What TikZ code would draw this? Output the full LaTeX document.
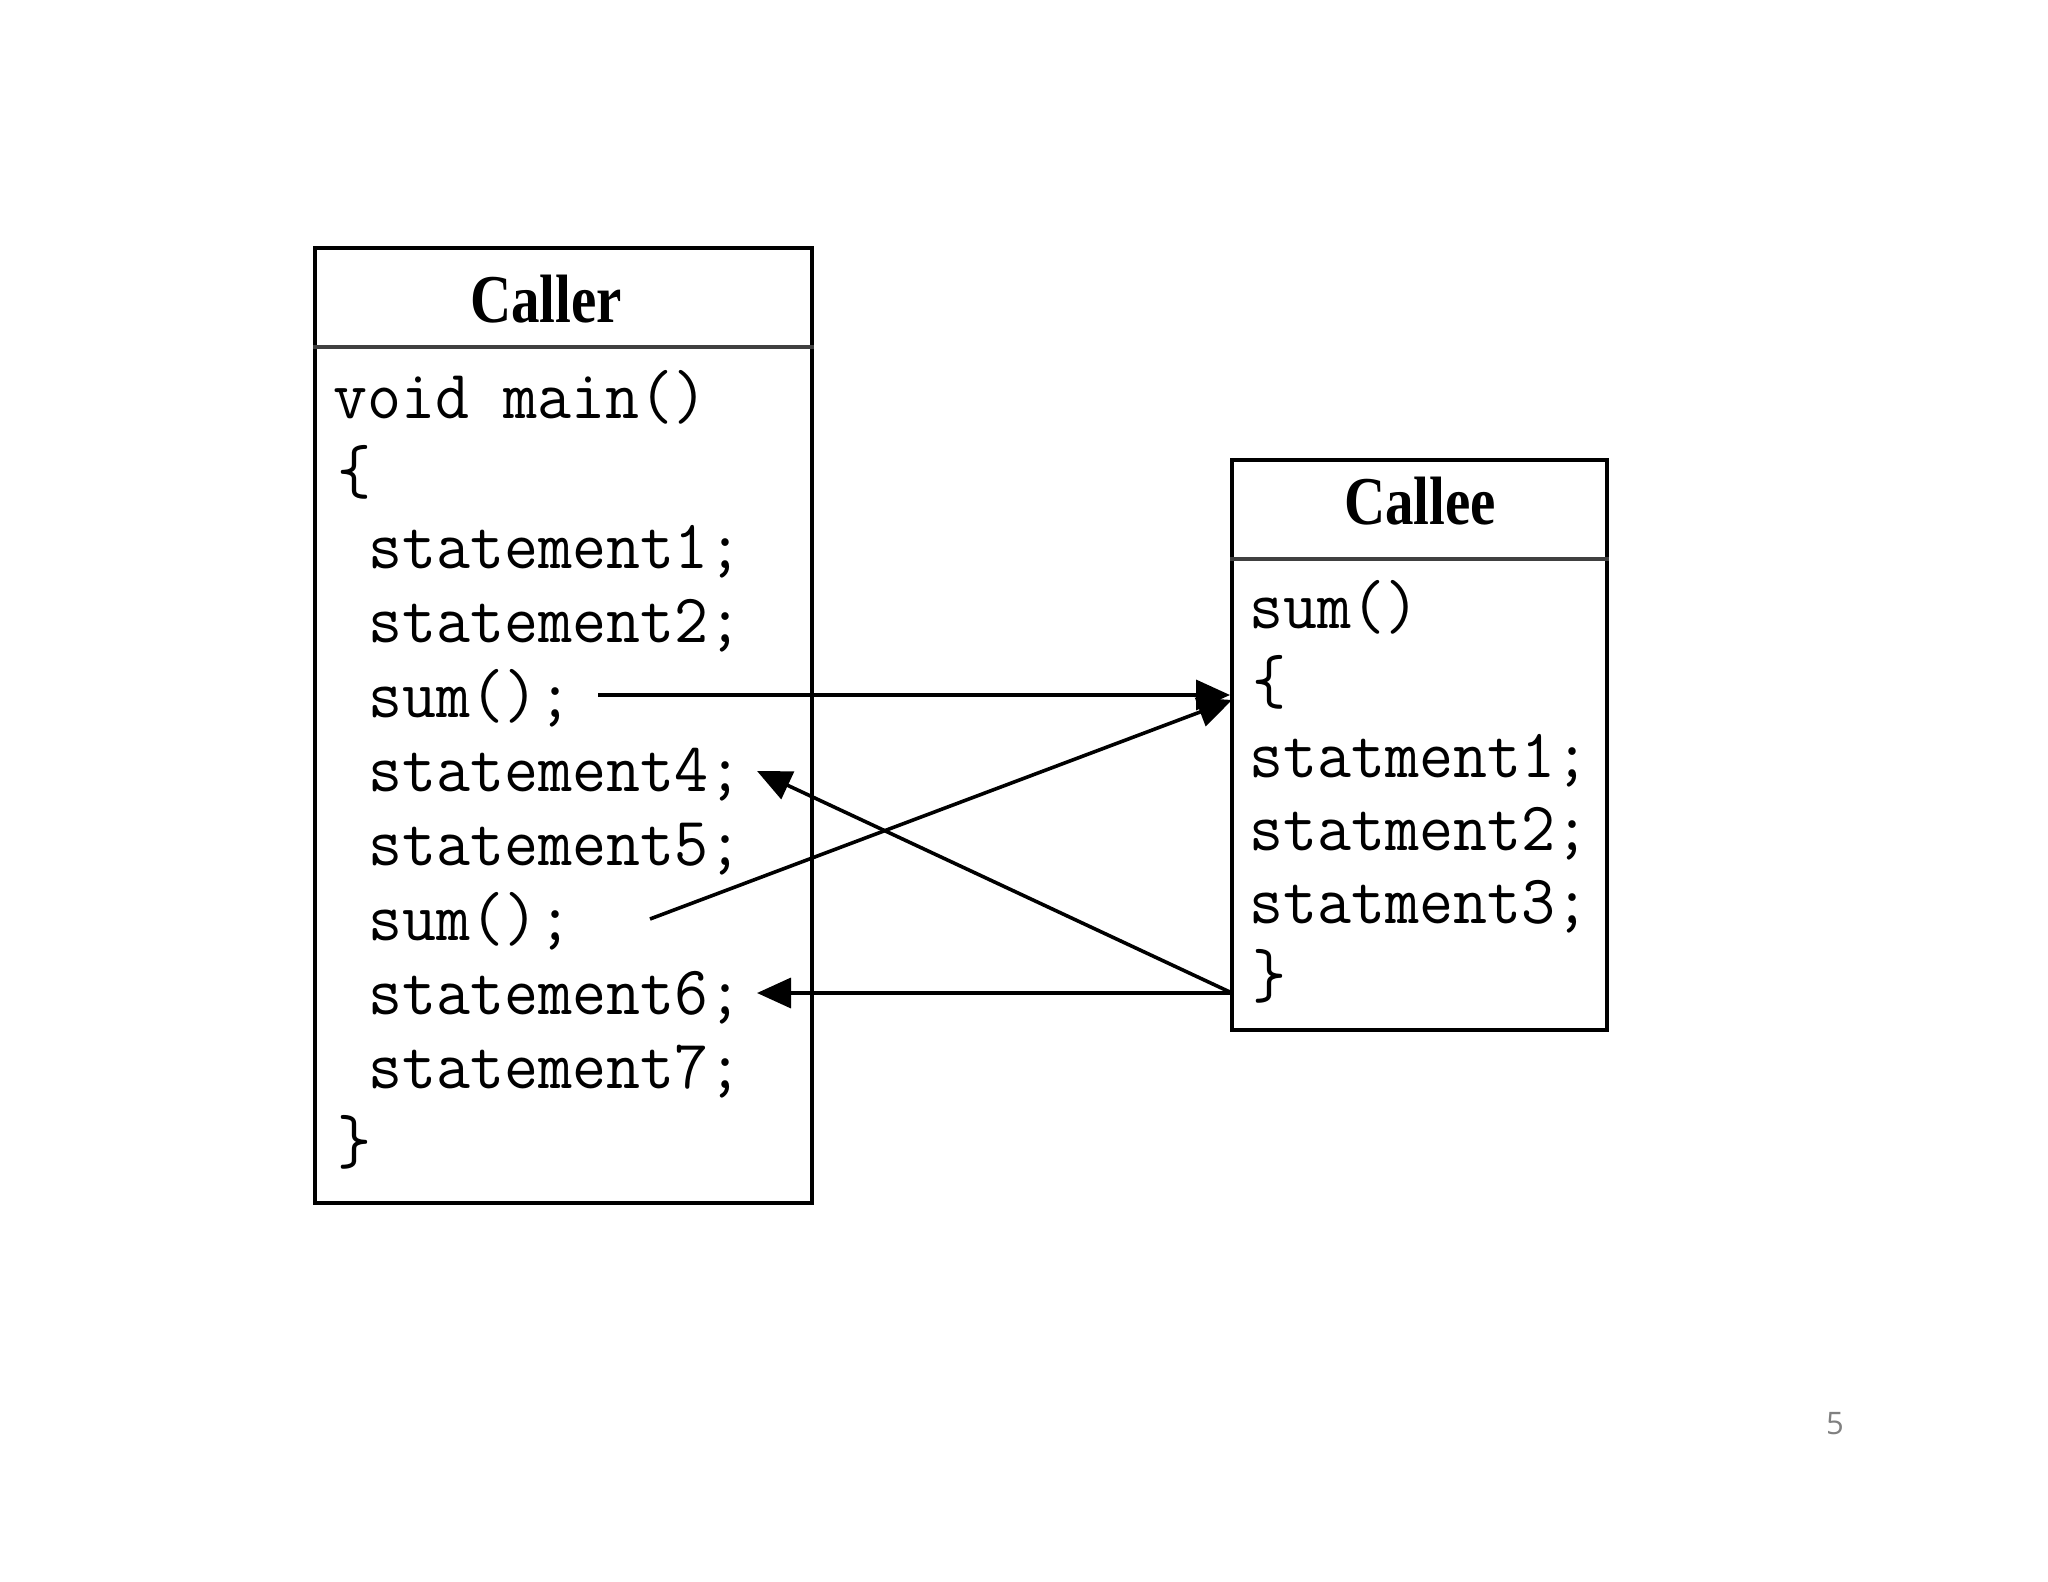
\documentclass[tikz,border=0pt]{standalone}
\usepackage{fontspec}
\usepackage{graphicx}
\usetikzlibrary{arrows.meta}
\newfontfamily\headfont{Liberation Serif}
\newfontfamily\pagefont{Open Sans}
\newcommand{\codetxt}[1]{\scalebox{1}[1.05]{\ttfamily\fontsize{33}{35}\selectfont #1}}
\newcommand{\headtxt}[1]{\scalebox{1}[1.2]{\headfont\bfseries\fontsize{28.5}{30}\selectfont #1}}
\begin{document}
\begin{tikzpicture}[x=0.5pt,y=-0.5pt,
  box/.style={draw=black, line width=2pt, inner sep=0pt},
  divider/.style={draw=black!75, line width=2pt},
  code/.style={anchor=base west, inner sep=0pt},
  head/.style={anchor=base, inner sep=0pt},
  flow/.style={draw=black, line width=1.8pt, -{Triangle[length=17pt,width=15pt]}}]
\useasboundingbox (0,0) rectangle (2048,1582);
% boxes
\node[box, minimum width=248.5pt, minimum height=477.5pt] (caller) at (563.5,725.5) {};
\node[box, minimum width=187.5pt, minimum height=285pt] (callee) at (1419.5,745) {};
\draw[divider] (caller.west |- 0,347) -- (caller.east |- 0,347);
\draw[divider] (callee.west |- 0,559) -- (callee.east |- 0,559);
% headers
\node[head] (hcaller) at (546,323) {\headtxt{Caller}};
\node[head] (hcallee) at (1420,525) {\headtxt{Callee}};
% caller code
\node[code] (c0) at (333,419) {\codetxt{void main()}};
\node[code] (c1) at (337,494) {\codetxt{\{}};
\node[code] (c2) at (368,568) {\codetxt{statement1;}};
\node[code] (c3) at (368,642) {\codetxt{statement2;}};
\node[code] (c4) at (368,717) {\codetxt{sum();}};
\node[code] (c5) at (368,791) {\codetxt{statement4;}};
\node[code] (c6) at (368,865) {\codetxt{statement5;}};
\node[code] (c7) at (368,940) {\codetxt{sum();}};
\node[code] (c8) at (368,1014) {\codetxt{statement6;}};
\node[code] (c9) at (368,1088) {\codetxt{statement7;}};
\node[code] (c10) at (337,1163) {\codetxt{\}}};
% callee code
\node[code] (d0) at (1249,628) {\codetxt{sum()}};
\node[code] (d1) at (1252,703) {\codetxt{\{}};
\node[code] (d2) at (1249,777) {\codetxt{statment1;}};
\node[code] (d3) at (1249,850) {\codetxt{statment2;}};
\node[code] (d4) at (1249,923) {\codetxt{statment3;}};
\node[code] (d5) at (1252,997) {\codetxt{\}}};
% connector ends
\coordinate (s1) at (598,695);
\coordinate (s2) at (650,919);
\coordinate (in) at (1232,700);
\coordinate (out) at (1232,993);
\coordinate (r1) at (757,771);
\coordinate (r2) at (757,993);
\draw[flow] (s1) -- (s1 -| callee.west);
\draw[flow] (s2) -- (in);
\draw[flow] (out) -- (r1);
\draw[flow] (out) -- (r2);
% page number
\node[text=black!50, inner sep=0pt] (pg) at (1835,1424) {\pagefont\fontsize{15.5}{18}\selectfont 5};
\end{tikzpicture}
\end{document}
